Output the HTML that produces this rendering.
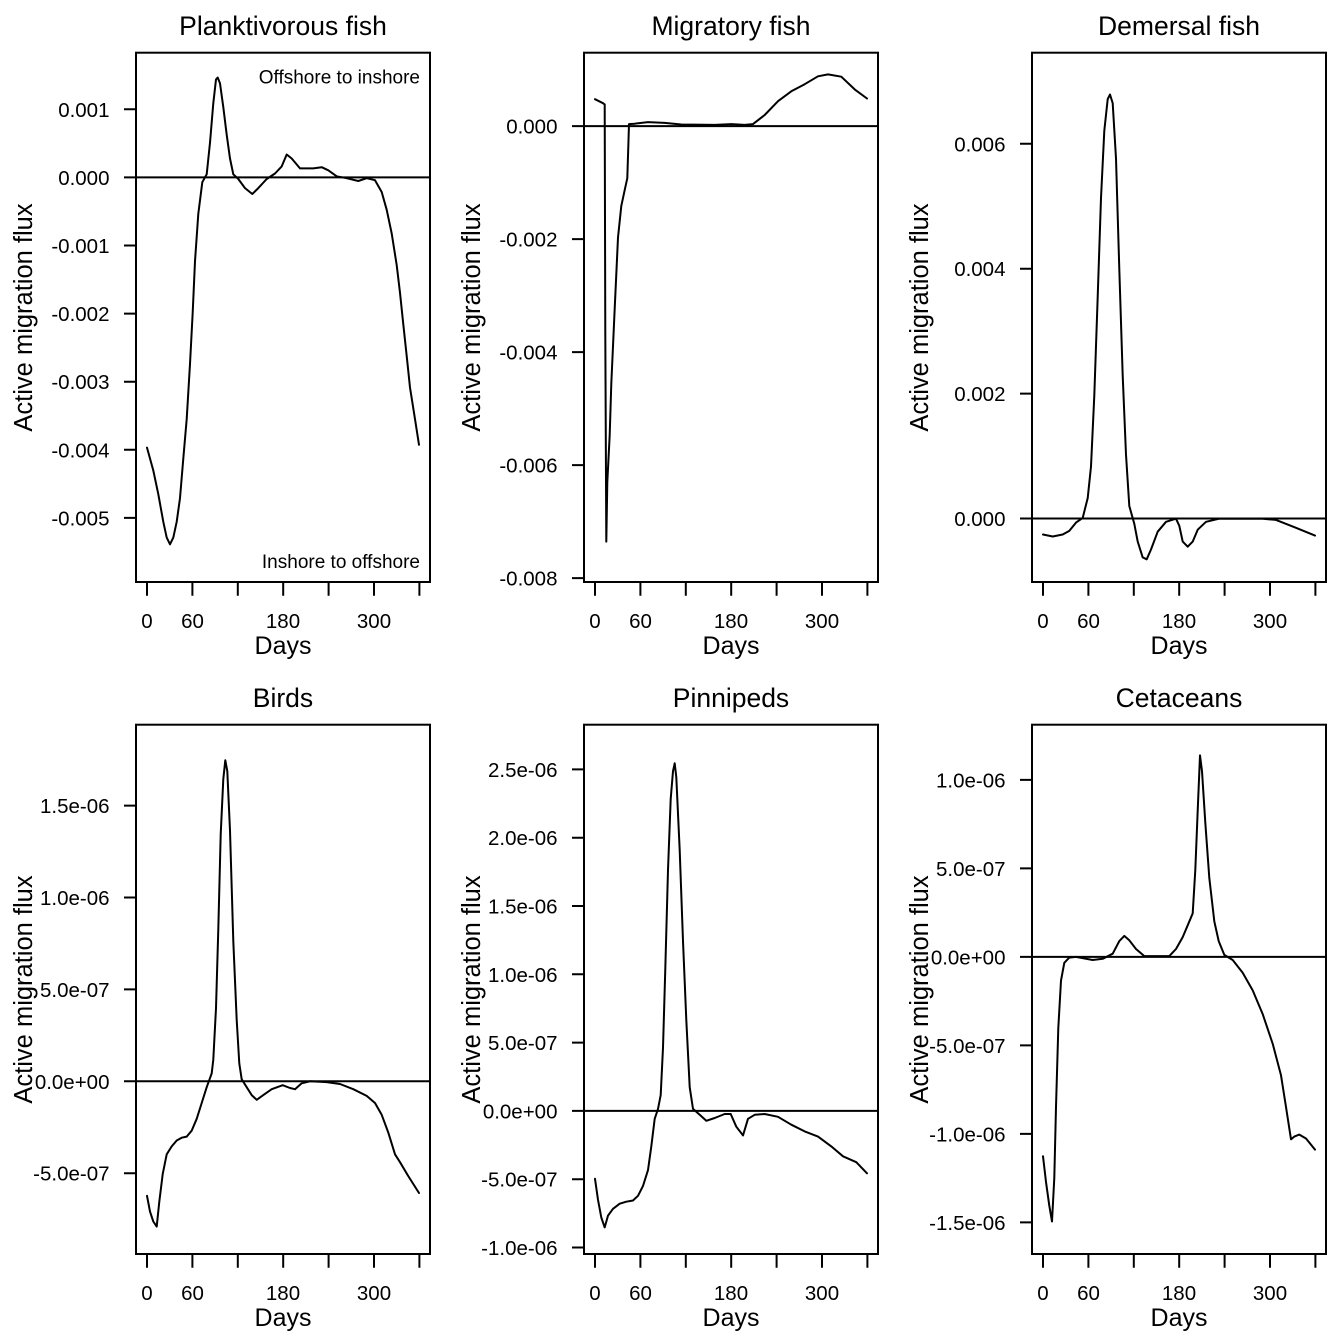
<!DOCTYPE html>
<html><head><meta charset="utf-8"><style>
html,body{margin:0;padding:0;background:#fff;}
svg{display:block;}
text{font-family:"Liberation Sans",Arial,sans-serif;fill:#000;}
.t{font-size:26.5px;text-anchor:middle;}
.yl{font-size:25.5px;text-anchor:middle;}
.xl{font-size:25px;text-anchor:middle;}
.tk{font-size:20.5px;text-anchor:end;}
.tx{font-size:20.5px;text-anchor:middle;}
.an{font-size:19px;text-anchor:end;}
.box{fill:none;stroke:#000;stroke-width:2;}
.ax{stroke:#000;stroke-width:2;fill:none;}
.cv{fill:none;stroke:#000;stroke-width:2;stroke-linejoin:round;stroke-linecap:round;}
</style></head><body>
<svg width="1344" height="1344" viewBox="0 0 1344 1344" xmlns="http://www.w3.org/2000/svg">
<rect width="1344" height="1344" fill="#fff"/>

<g id="frames">
  <g>
    <rect class="box" x="136" y="52.7" width="294" height="529.3"/>
    <path class="ax" d="M147 582V595.7M192.4 582V595.7M237.8 582V595.7M283.2 582V595.7M328.6 582V595.7M374 582V595.7M419.4 582V595.7"/>
    <text class="tx" x="147" y="628">0</text><text class="tx" x="192.5" y="628">60</text><text class="tx" x="283" y="628">180</text><text class="tx" x="374" y="628">300</text>
    <text class="xl" x="283" y="654">Days</text>
    <text class="t" x="283" y="35">Planktivorous fish</text>
    <text class="yl" transform="translate(32,317.5) rotate(-90)">Active migration flux</text>
  </g>
  <g transform="translate(448,0)">
    <rect class="box" x="136" y="52.7" width="294" height="529.3"/>
    <path class="ax" d="M147 582V595.7M192.4 582V595.7M237.8 582V595.7M283.2 582V595.7M328.6 582V595.7M374 582V595.7M419.4 582V595.7"/>
    <text class="tx" x="147" y="628">0</text><text class="tx" x="192.5" y="628">60</text><text class="tx" x="283" y="628">180</text><text class="tx" x="374" y="628">300</text>
    <text class="xl" x="283" y="654">Days</text>
    <text class="t" x="283" y="35">Migratory fish</text>
    <text class="yl" transform="translate(32,317.5) rotate(-90)">Active migration flux</text>
  </g>
  <g transform="translate(896,0)">
    <rect class="box" x="136" y="52.7" width="294" height="529.3"/>
    <path class="ax" d="M147 582V595.7M192.4 582V595.7M237.8 582V595.7M283.2 582V595.7M328.6 582V595.7M374 582V595.7M419.4 582V595.7"/>
    <text class="tx" x="147" y="628">0</text><text class="tx" x="192.5" y="628">60</text><text class="tx" x="283" y="628">180</text><text class="tx" x="374" y="628">300</text>
    <text class="xl" x="283" y="654">Days</text>
    <text class="t" x="283" y="35">Demersal fish</text>
    <text class="yl" transform="translate(32,317.5) rotate(-90)">Active migration flux</text>
  </g>
  <g transform="translate(0,672)">
    <rect class="box" x="136" y="52.7" width="294" height="529.3"/>
    <path class="ax" d="M147 582V595.7M192.4 582V595.7M237.8 582V595.7M283.2 582V595.7M328.6 582V595.7M374 582V595.7M419.4 582V595.7"/>
    <text class="tx" x="147" y="628">0</text><text class="tx" x="192.5" y="628">60</text><text class="tx" x="283" y="628">180</text><text class="tx" x="374" y="628">300</text>
    <text class="xl" x="283" y="654">Days</text>
    <text class="t" x="283" y="35">Birds</text>
    <text class="yl" transform="translate(32,317.5) rotate(-90)">Active migration flux</text>
  </g>
  <g transform="translate(448,672)">
    <rect class="box" x="136" y="52.7" width="294" height="529.3"/>
    <path class="ax" d="M147 582V595.7M192.4 582V595.7M237.8 582V595.7M283.2 582V595.7M328.6 582V595.7M374 582V595.7M419.4 582V595.7"/>
    <text class="tx" x="147" y="628">0</text><text class="tx" x="192.5" y="628">60</text><text class="tx" x="283" y="628">180</text><text class="tx" x="374" y="628">300</text>
    <text class="xl" x="283" y="654">Days</text>
    <text class="t" x="283" y="35">Pinnipeds</text>
    <text class="yl" transform="translate(32,317.5) rotate(-90)">Active migration flux</text>
  </g>
  <g transform="translate(896,672)">
    <rect class="box" x="136" y="52.7" width="294" height="529.3"/>
    <path class="ax" d="M147 582V595.7M192.4 582V595.7M237.8 582V595.7M283.2 582V595.7M328.6 582V595.7M374 582V595.7M419.4 582V595.7"/>
    <text class="tx" x="147" y="628">0</text><text class="tx" x="192.5" y="628">60</text><text class="tx" x="283" y="628">180</text><text class="tx" x="374" y="628">300</text>
    <text class="xl" x="283" y="654">Days</text>
    <text class="t" x="283" y="35">Cetaceans</text>
    <text class="yl" transform="translate(32,317.5) rotate(-90)">Active migration flux</text>
  </g>
</g>

<!-- Panel 1 -->
<path class="ax" d="M124 109.3H136M124 177.4H136M124 245.5H136M124 313.6H136M124 381.7H136M124 449.8H136M124 517.9H136"/>
<text class="tk" x="109.5" y="116.8">0.001</text>
<text class="tk" x="109.5" y="184.9">0.000</text>
<text class="tk" x="109.5" y="253">-0.001</text>
<text class="tk" x="109.5" y="321.1">-0.002</text>
<text class="tk" x="109.5" y="389.2">-0.003</text>
<text class="tk" x="109.5" y="457.3">-0.004</text>
<text class="tk" x="109.5" y="525.4">-0.005</text>
<line class="ax" x1="136" y1="177.4" x2="430" y2="177.4"/>
<text class="an" x="420" y="83.3">Offshore to inshore</text>
<text class="an" x="420" y="568">Inshore to offshore</text>
<polyline class="cv" points="147,447.6 153.3,470.5 158.3,494.2 163.3,521.8 166.7,537.6 170,544.3 173.3,537.6 176.7,521.8 180,498.1 183.3,458.6 186.7,419.1 190,363.9 192.7,312.5 195,261.2 198.3,213.8 202.3,182.2 206.7,174.3 210,142.7 213.3,103.2 216,79.5 217.7,77.5 220,83.4 223.3,107.1 226.7,134.8 230,158.5 233.3,174.3 238.3,179 245,188.1 252.3,194 258.3,188.1 266.7,179 275,173.5 281.7,166.4 286.7,154.5 291.7,158.5 300,168.4 313.3,168.4 321.7,167.2 328.3,170.3 336.7,176.3 346.7,178.2 358.3,181 366.7,178.2 375,180.2 381.7,192 386.7,209.8 391.7,233.5 396.7,265.1 400,292.8 403.3,324.4 406.7,356 410,387.5 415,419.1 419,444.8"/>

<!-- Panel 2 -->
<path class="ax" d="M572 126.1H584M572 239.1H584M572 352.1H584M572 465.1H584M572 578.1H584"/>
<text class="tk" x="557.5" y="133.6">0.000</text>
<text class="tk" x="557.5" y="246.6">-0.002</text>
<text class="tk" x="557.5" y="359.6">-0.004</text>
<text class="tk" x="557.5" y="472.6">-0.006</text>
<text class="tk" x="557.5" y="585.6">-0.008</text>
<line class="ax" x1="584" y1="126.1" x2="878" y2="126.1"/>
<polyline class="cv" points="595,99.2 603,103.2 604.7,104.4 605.3,334.2 606.3,541.6 607.3,482.3 609.7,435 611.3,383.6 614.7,308.6 618,237.5 621.3,205.9 624.7,190.1 627.3,178.2 628.3,146.6 629,124.1 634.7,123.7 648,122.1 664.7,122.9 681.3,124.5 714.7,124.9 731.3,124.1 744.7,124.9 753,124.1 764.7,115 778,101.2 791.3,91.3 804.7,84.2 818,76.3 828,74.4 841.3,76.7 854.7,89.4 867,98.5"/>

<!-- Panel 3 -->
<path class="ax" d="M1020 518.5H1032M1020 393.6H1032M1020 268.7H1032M1020 143.8H1032"/>
<text class="tk" x="1005.5" y="526">0.000</text>
<text class="tk" x="1005.5" y="401.1">0.002</text>
<text class="tk" x="1005.5" y="276.2">0.004</text>
<text class="tk" x="1005.5" y="151.3">0.006</text>
<line class="ax" x1="1032" y1="518.5" x2="1326" y2="518.5"/>
<polyline class="cv" points="1043,534.5 1052.7,536.5 1062.7,534.5 1069.3,530.9 1076,522.6 1082.7,517.9 1087.7,498.1 1091,466.5 1094.3,395.5 1097.7,296.7 1101,198 1104.3,130.8 1107.7,99.2 1110,94.5 1112.7,103.2 1116,158.5 1119.3,269.1 1122.7,375.7 1126,454.7 1129.3,506 1134.3,523.8 1137.7,541.6 1142.7,557.4 1146.7,559.3 1151,549.5 1157.7,531.7 1166,521.8 1176,518.7 1179.3,525.8 1182.7,541.6 1187.7,546.7 1192.7,541.6 1197.7,529.7 1206,521.8 1219.3,518.7 1262.7,518.7 1276,519.9 1296,527.8 1315,535.6"/>

<!-- Panel 4 -->
<path class="ax" d="M124 805.6H136M124 897.5H136M124 989.4H136M124 1081.3H136M124 1173.2H136"/>
<text class="tk" x="109.5" y="813.1">1.5e-06</text>
<text class="tk" x="109.5" y="905">1.0e-06</text>
<text class="tk" x="109.5" y="996.9">5.0e-07</text>
<text class="tk" x="109.5" y="1088.8">0.0e+00</text>
<text class="tk" x="109.5" y="1180.7">-5.0e-07</text>
<line class="ax" x1="136" y1="1081.3" x2="430" y2="1081.3"/>
<polyline class="cv" points="147,1195.8 150,1211.6 153.3,1221.5 156.7,1226.6 159.3,1201.7 162.7,1174.1 166.7,1154.3 171.7,1146.4 176.7,1140.5 181.7,1137.7 186.7,1136.6 191.7,1130.6 196.7,1118.8 201.7,1103 206.7,1087.2 211.7,1073.4 213.3,1059.6 216,1008.2 218.3,929.2 220.7,834.4 223.3,779.1 225.3,760.2 227.3,771.2 230,830.5 233.3,941.1 236.7,1020 239.3,1063.5 241.7,1079.3 246.7,1087.2 251.7,1095.1 256.7,1099.8 263.3,1095.1 271.7,1089.2 282.7,1085.2 290,1088 295,1089.2 301.7,1083.3 310,1081.3 326.7,1082.1 340,1084 353.3,1089.2 366.7,1095.9 375,1103 381.7,1114.8 388.3,1132.6 395,1154.3 400,1162.2 408.3,1176.1 419,1193"/>

<!-- Panel 5 -->
<path class="ax" d="M572 769.4H584M572 837.7H584M572 906H584M572 974.3H584M572 1042.6H584M572 1110.9H584M572 1179.2H584M572 1247.5H584"/>
<text class="tk" x="557.5" y="776.9">2.5e-06</text>
<text class="tk" x="557.5" y="845.2">2.0e-06</text>
<text class="tk" x="557.5" y="913.5">1.5e-06</text>
<text class="tk" x="557.5" y="981.8">1.0e-06</text>
<text class="tk" x="557.5" y="1050.1">5.0e-07</text>
<text class="tk" x="557.5" y="1118.4">0.0e+00</text>
<text class="tk" x="557.5" y="1186.7">-5.0e-07</text>
<text class="tk" x="557.5" y="1255">-1.0e-06</text>
<line class="ax" x1="584" y1="1110.9" x2="878" y2="1110.9"/>
<polyline class="cv" points="595,1178.8 598,1199.8 601.3,1217.5 604.7,1227.4 608,1215.6 613,1208.8 619.7,1203.7 626.3,1201.7 633,1200.5 638,1195.8 643,1185.9 648,1170.1 651.3,1146.4 654.7,1118.8 658,1108.9 660.7,1095.1 663,1047.7 665.3,968.7 668,870 670.7,798.9 673,771.2 674.7,763.3 676.3,777.2 679.7,850.2 683,941.1 686.3,1020 689.7,1087.2 693,1108.9 699.7,1114.8 706.3,1120.8 714.7,1118 724.7,1114 730.7,1114 736.3,1126.7 743,1135.4 748,1118.8 754.7,1114.8 764.7,1114 778,1116.8 791.3,1124.7 804.7,1131.4 818,1136.6 831.3,1146.4 843,1156.3 856.3,1162.2 867,1173.3"/>

<!-- Panel 6 -->
<path class="ax" d="M1020 779.9H1032M1020 868.4H1032M1020 956.9H1032M1020 1045.4H1032M1020 1133.9H1032M1020 1222.4H1032"/>
<text class="tk" x="1005.5" y="787.4">1.0e-06</text>
<text class="tk" x="1005.5" y="875.9">5.0e-07</text>
<text class="tk" x="1005.5" y="964.4">0.0e+00</text>
<text class="tk" x="1005.5" y="1052.9">-5.0e-07</text>
<text class="tk" x="1005.5" y="1141.4">-1.0e-06</text>
<text class="tk" x="1005.5" y="1229.9">-1.5e-06</text>
<line class="ax" x1="1032" y1="956.9" x2="1326" y2="956.9"/>
<polyline class="cv" points="1043,1156.3 1046,1182 1049.3,1205.7 1052,1221.5 1054.3,1178 1056,1107 1058.3,1028 1061,980.6 1064.3,962.8 1069.3,957.6 1076,956.9 1092.7,960 1102.7,958.8 1112.7,953.7 1119.3,941.1 1124.3,935.9 1129.3,940.3 1136,949 1144.3,956.1 1169.3,956.1 1176,949 1182.7,937.1 1187.7,925.3 1192.7,913.4 1195.3,870 1197.7,810.7 1200,755.4 1202,771.2 1205.3,822.6 1209.3,877.9 1214.3,921.3 1218.7,941.1 1224.3,954.9 1232.7,960 1242.7,972.7 1252.7,990.4 1262.7,1014.1 1272.7,1043.8 1281,1075.3 1286,1107 1291,1139.3 1294.3,1136.6 1299.3,1134.6 1306,1138.5 1315,1149.6"/>
</svg>
</body></html>
